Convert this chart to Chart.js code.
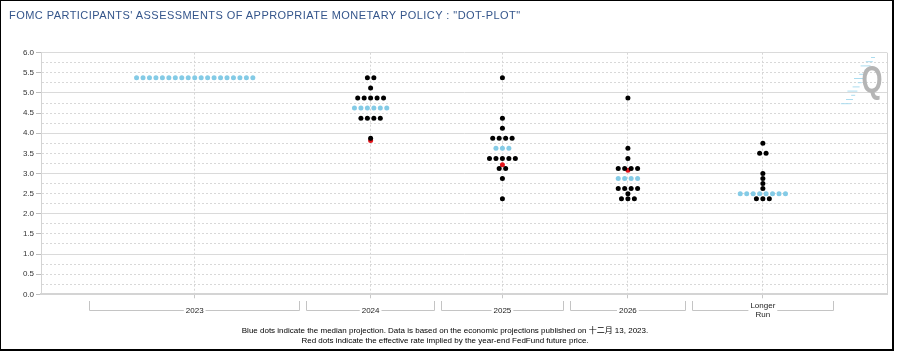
<!DOCTYPE html>
<html>
<head>
<meta charset="utf-8">
<title>FOMC dot plot</title>
<script src="https://cdn.jsdelivr.net/npm/chart.js@4.4.1/dist/chart.umd.min.js"></script>
<style>
    html, body { margin: 0; padding: 0; background: #fff; }
    #wrap { position: relative; width: 898px; height: 354px; overflow: hidden; background: #fff; }
    #chart { position: absolute; left: 0; top: 0; }
    #frame {
        position: absolute; left: 0; top: 0; width: 891px; height: 348px;
        border: 1px solid #000; border-right-width: 2px; border-bottom-width: 2px;
        pointer-events: none;
    }
    #title {
        position: absolute; left: 9px; top: 9px; white-space: nowrap; letter-spacing: 0.45px;
        font: 11px/13px "Liberation Sans", Arial, sans-serif; color: #34558b;
    }
    #note {
        position: absolute; left: 0; top: 326px; width: 890px; text-align: center;
        font: 8px/10px "Liberation Sans", Arial, "Noto Sans CJK SC", sans-serif; color: #000;
    }
</style>
</head>
<body>
<div id="wrap">
    <canvas id="chart" width="898" height="354"></canvas>
    <div id="title">FOMC PARTICIPANTS' ASSESSMENTS OF APPROPRIATE MONETARY POLICY : "DOT-PLOT"</div>
    <div id="note">Blue dots indicate the median projection. Data is based on the economic projections published on 十二月 13, 2023.<br>Red dots indicate the effective rate implied by the year-end FedFund future price.</div>
    <div id="frame"></div>
</div>
<script>
// Categories on the x axis
const categoryLabels = [['2023'], ['2024'], ['2025'], ['2026'], ['Longer', 'Run']];

// Projected rate levels (%) for each category, and how many participants sit at each level
const rateLevels = [
    [5.375],
    [5.375, 5.125, 4.875, 4.625, 4.375, 3.875],
    [5.375, 4.375, 4.125, 3.875, 3.625, 3.375, 3.125, 2.875, 2.375],
    [4.875, 3.625, 3.375, 3.125, 2.875, 2.625, 2.5, 2.375],
    [3.75, 3.5, 3.0, 2.875, 2.75, 2.625, 2.5, 2.375]
];
const participantCounts = [
    [19],
    [2, 1, 5, 6, 4, 1],
    [1, 1, 1, 4, 3, 5, 2, 1, 1],
    [1, 1, 1, 4, 4, 4, 1, 3],
    [1, 2, 1, 1, 1, 1, 8, 3]
];
const medianRate = [5.375, 4.625, 3.625, 2.875, 2.5];
const futuresRate = [null, 3.82, 3.22, 3.08, null];

// y axis
const yMin = 0, yMax = 6, yStep = 0.25;

// layout of the groups along the x axis, in "dot" units
const LEFT_PAD = 7.67, GROUP_PAD = 14.43, GROUP_GAP = 0.98, RIGHT_PAD = 8.48, DOT_STEP = 1.025;

let cursor = LEFT_PAD;
const groups = participantCounts.map(counts => {
    const w = Math.max(...counts) + GROUP_PAD;
    const g = { start: cursor, end: cursor + w, center: cursor + w / 2 };
    cursor += w + GROUP_GAP;
    return g;
});
const xMax = cursor - GROUP_GAP + RIGHT_PAD;

// build the dots
const blackDots = [], blueDots = [], redDots = [];
rateLevels.forEach((levels, i) => {
    levels.forEach((rate, j) => {
        const n = participantCounts[i][j];
        for (let k = 0; k < n; k++) {
            const pt = { x: groups[i].center + (k - (n - 1) / 2) * DOT_STEP, y: rate };
            (rate === medianRate[i] ? blueDots : blackDots).push(pt);
        }
    });
    if (futuresRate[i] !== null) redDots.push({ x: groups[i].center, y: futuresRate[i] });
});

const isLabelled = v => Math.round(v * 4) % 2 === 0;
const isWhole = v => Math.abs(v - Math.round(v)) < 1e-6;

const framePlugin = {
    id: 'frame',
    beforeDatasetsDraw(chart) {
        const { ctx, chartArea } = chart;
        ctx.save();
        ctx.strokeStyle = '#d4d4d4';
        ctx.lineWidth = 1;
        ctx.beginPath();
        ctx.moveTo(Math.round(chartArea.right) + 0.5, chartArea.top);
        ctx.lineTo(Math.round(chartArea.right) + 0.5, chartArea.bottom);
        ctx.stroke();

        // watermark logo
        ctx.strokeStyle = '#abdcef';
        for (let i = 0; i < 12; i++) {
            const yy = 57.5 + i * 4.2, xx = 875 - i * 2.2, len = 4 + (i % 3) * 3;
            ctx.beginPath();
            ctx.moveTo(xx - len, yy);
            ctx.lineTo(xx, yy);
            ctx.stroke();
        }
        ctx.fillStyle = '#b5b5b5';
        ctx.font = 'bold 36px "Liberation Sans", Arial, sans-serif';
        ctx.textAlign = 'center';
        ctx.textBaseline = 'middle';
        ctx.translate(872, 82);
        ctx.scale(0.75, 1);
        ctx.fillText('Q', 0, 0);
        ctx.restore();
    }
};

const bracketPlugin = {
    id: 'brackets',
    afterDraw(chart) {
        const { ctx, chartArea, scales: { x } } = chart;
        const top = Math.round(chartArea.bottom + 7);
        const line = Math.round(chartArea.bottom + 16) + 0.5;
        ctx.save();
        ctx.font = '8px "Liberation Sans", Arial, sans-serif';
        ctx.textAlign = 'center';
        ctx.textBaseline = 'middle';
        groups.forEach((g, i) => {
            const x0 = Math.round(x.getPixelForValue(g.start)) + 0.5;
            const x1 = Math.round(x.getPixelForValue(g.end)) - 0.5;
            const xc = x.getPixelForValue(g.center);
            const lines = categoryLabels[i];
            const tw = Math.max(...lines.map(t => ctx.measureText(t).width)) + 4;
            ctx.strokeStyle = '#c4c4c4';
            ctx.lineWidth = 1;
            ctx.beginPath();
            ctx.moveTo(x0, top);
            ctx.lineTo(x0, line);
            ctx.lineTo(xc - tw / 2, line);
            ctx.moveTo(xc + tw / 2, line);
            ctx.lineTo(x1, line);
            ctx.lineTo(x1, top);
            ctx.stroke();
            ctx.fillStyle = '#222';
            lines.forEach((t, k) => {
                ctx.fillText(t, xc, line + (k - (lines.length - 1) / 2) * 8.6);
            });
        });
        ctx.restore();
    }
};

const ctx = document.getElementById('chart').getContext('2d');
new Chart(ctx, {
    type: 'scatter',
    data: {
        datasets: [
            { label: 'Participants', data: blackDots, backgroundColor: '#000', pointRadius: 2.5, borderWidth: 0 },
            { label: 'Median', data: blueDots, backgroundColor: '#84cbe6', pointRadius: 2.5, borderWidth: 0 },
            { label: 'Futures', data: redDots, backgroundColor: '#e3141b', pointRadius: 2.5, borderWidth: 0 }
        ]
    },
    options: {
        responsive: false,
        devicePixelRatio: 1,
        animation: false,
        layout: { padding: { left: 0, right: 11, top: 52.7, bottom: 0 } },
        plugins: {
            legend: { display: false },
            tooltip: { enabled: false },
            title: { display: false }
        },
        scales: {
            x: {
                type: 'linear',
                min: 0,
                max: xMax,
                afterBuildTicks: axis => { axis.ticks = groups.map(g => ({ value: g.center })); },
                afterFit: axis => { axis.height = 354 - 294.3; },
                ticks: { display: false },
                grid: {
                    color: '#d6d6d6',
                    tickColor: '#c8c8c8',
                    tickLength: 4,
                    tickBorderDash: []
                },
                border: { color: '#d4d4d4', width: 2, dash: c => (c.tick ? [2, 2] : []) }
            },
            y: {
                type: 'linear',
                min: yMin,
                max: yMax,
                afterFit: axis => { axis.width = 41; },
                ticks: {
                    stepSize: yStep,
                    autoSkip: false,
                    padding: 2,
                    color: '#333',
                    font: { size: 8, family: '"Liberation Sans", Arial, sans-serif' },
                    callback: v => (isLabelled(v) ? v.toFixed(1) : '')
                },
                grid: {
                    color: c => (c.tick && isWhole(c.tick.value) ? '#dadada' : '#d8d8d8'),
                    tickColor: c => (c.tick && isLabelled(c.tick.value) ? '#bdbdbd' : 'rgba(0,0,0,0)'),
                    tickLength: 5,
                    tickBorderDash: []
                },
                border: {
                    color: '#d4d4d4',
                    width: 1,
                    dash: c => (c.tick && !isWhole(c.tick.value) ? [2, 2] : [])
                }
            }
        }
    },
    plugins: [framePlugin, bracketPlugin]
});
</script>
</body>
</html>
